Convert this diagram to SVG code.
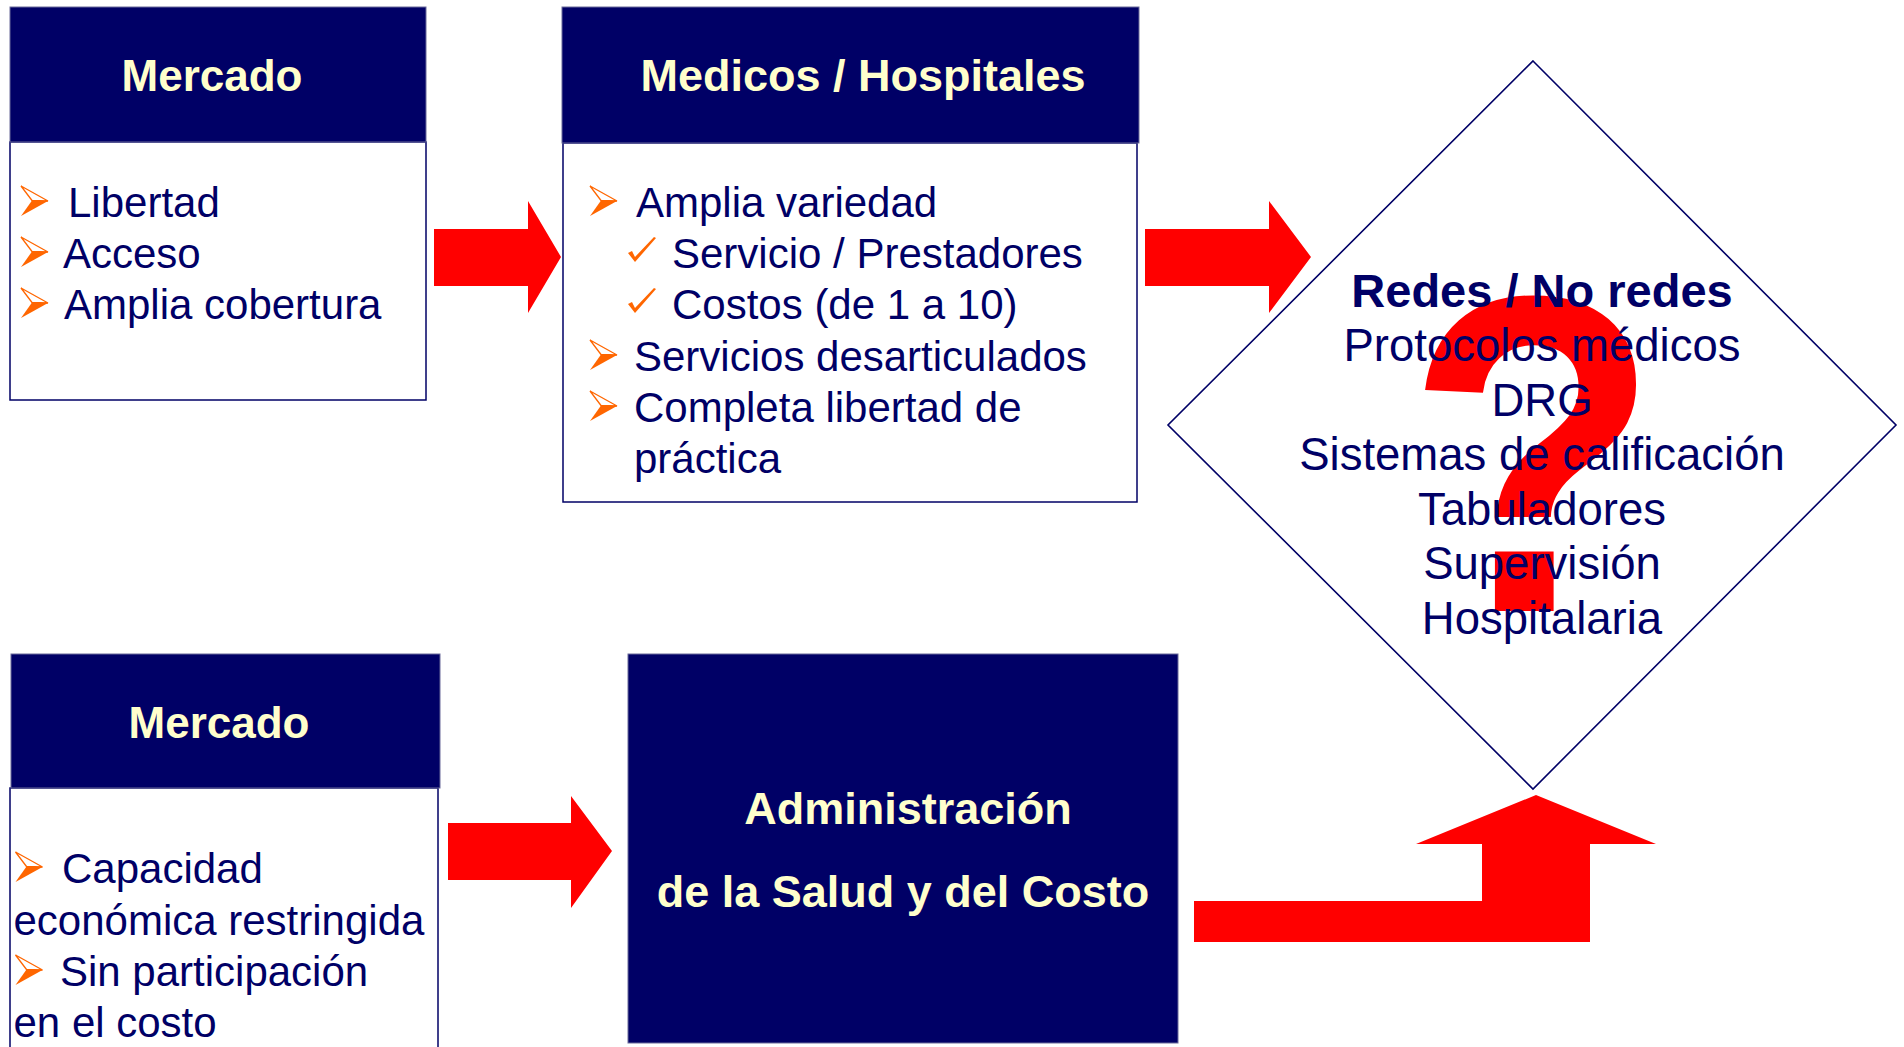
<svg xmlns="http://www.w3.org/2000/svg" width="1904" height="1047" viewBox="0 0 1904 1047">
<defs>
<style>
.hdr{fill:#000066;stroke:#6a6a9a;stroke-width:1}
.body{fill:#ffffff;stroke:#000066;stroke-width:1.5}
.ttl{font-family:"Liberation Sans",Arial,sans-serif;font-weight:bold;fill:#ffffcc;font-size:44px}
.li{font-family:"Liberation Sans",Arial,sans-serif;fill:#000066;font-size:42px}
.dt{font-family:"Liberation Sans",Arial,sans-serif;fill:#000066;font-size:45.5px;text-anchor:middle}
.red{fill:#ff0000}
</style>
<g id="bul">
<polygon points="0,0 27,15 11,14.5" fill="#ffffff" stroke="#ff6600" stroke-width="1.3" stroke-linejoin="miter"/>
<polygon points="11,14.5 27,15 0,30" fill="#ff6600"/>
</g>
<polygon id="chk" points="0,16 4,14 7,20 26,0 28,1 7,25" fill="#ff6600"/>
</defs>
<rect width="1904" height="1047" fill="#ffffff"/>

<g id="connectors">
<polygon class="red" points="434,229 528,229 528,201 561,257 528,313 528,286 434,286"/>
<polygon class="red" points="1145,229 1269,229 1269,201 1311,257 1269,313 1269,286 1145,286"/>
<polygon class="red" points="448,823 571,823 571,796 612,851 571,908 571,880 448,880"/>
<polygon class="red" points="1194,901 1482,901 1482,844 1416,844 1536,795 1656,844 1590,844 1590,942 1194,942"/>
</g>

<g id="mercado1">
<rect class="body" x="10" y="142" width="416" height="258"/>
<rect class="hdr" x="10" y="7" width="416" height="135"/>
<text class="ttl" x="212" y="91" text-anchor="middle">Mercado</text>
<use href="#bul" x="21" y="186"/>
<use href="#bul" x="21" y="237"/>
<use href="#bul" x="21" y="288"/>
<text class="li" x="68" y="217">Libertad</text>
<text class="li" x="63" y="268">Acceso</text>
<text class="li" x="64" y="319">Amplia cobertura</text>
</g>

<g id="medicos">
<rect class="body" x="563" y="143" width="574" height="359"/>
<rect class="hdr" x="562" y="7" width="577" height="136"/>
<text class="ttl" x="863" y="91" text-anchor="middle" style="font-size:45px">Medicos / Hospitales</text>
<use href="#bul" x="590" y="186"/>
<use href="#chk" x="628" y="237"/>
<use href="#chk" x="628" y="288"/>
<use href="#bul" x="590" y="340"/>
<use href="#bul" x="590" y="391"/>
<text class="li" x="636" y="217">Amplia variedad</text>
<text class="li" x="672" y="268">Servicio / Prestadores</text>
<text class="li" x="672" y="319">Costos (de 1 a 10)</text>
<text class="li" x="634" y="371">Servicios desarticulados</text>
<text class="li" x="634" y="422">Completa libertad de</text>
<text class="li" x="634" y="473">práctica</text>
</g>

<g id="redes">
<polygon points="1533,61 1896,425 1533,789 1168,425" fill="#ffffff" stroke="#000066" stroke-width="1.6"/>
<text transform="translate(1533,611) scale(0.92,1)" x="0" y="0" text-anchor="middle" style="font-family:'Liberation Sans',Arial,sans-serif;font-weight:bold;font-size:452px;fill:#ff0000">?</text>
<text class="dt" x="1542" y="307" style="font-weight:bold;font-size:47px">Redes / No redes</text>
<text class="dt" x="1542" y="361">Protocolos médicos</text>
<text class="dt" x="1542" y="416">DRG</text>
<text class="dt" x="1542" y="470">Sistemas de calificación</text>
<text class="dt" x="1542" y="525">Tabuladores</text>
<text class="dt" x="1542" y="579">Supervisión</text>
<text class="dt" x="1542" y="634">Hospitalaria</text>
</g>

<g id="mercado2">
<rect class="body" x="10" y="788" width="428" height="270"/>
<rect class="hdr" x="11" y="654" width="429" height="134"/>
<text class="ttl" x="219" y="738" text-anchor="middle">Mercado</text>
<use href="#bul" x="15.5" y="852"/>
<use href="#bul" x="15.5" y="955"/>
<text class="li" x="62" y="883">Capacidad</text>
<text class="li" x="13.5" y="935">económica restringida</text>
<text class="li" x="60" y="986">Sin participación</text>
<text class="li" x="13.5" y="1037">en el costo</text>
</g>

<g id="administracion">
<rect class="hdr" x="628" y="654" width="550" height="389"/>
<text class="ttl" x="908" y="824" text-anchor="middle" style="font-size:45px">Administración</text>
<text class="ttl" x="903" y="907" text-anchor="middle" style="font-size:45px">de la Salud y del Costo</text>
</g>
</svg>
